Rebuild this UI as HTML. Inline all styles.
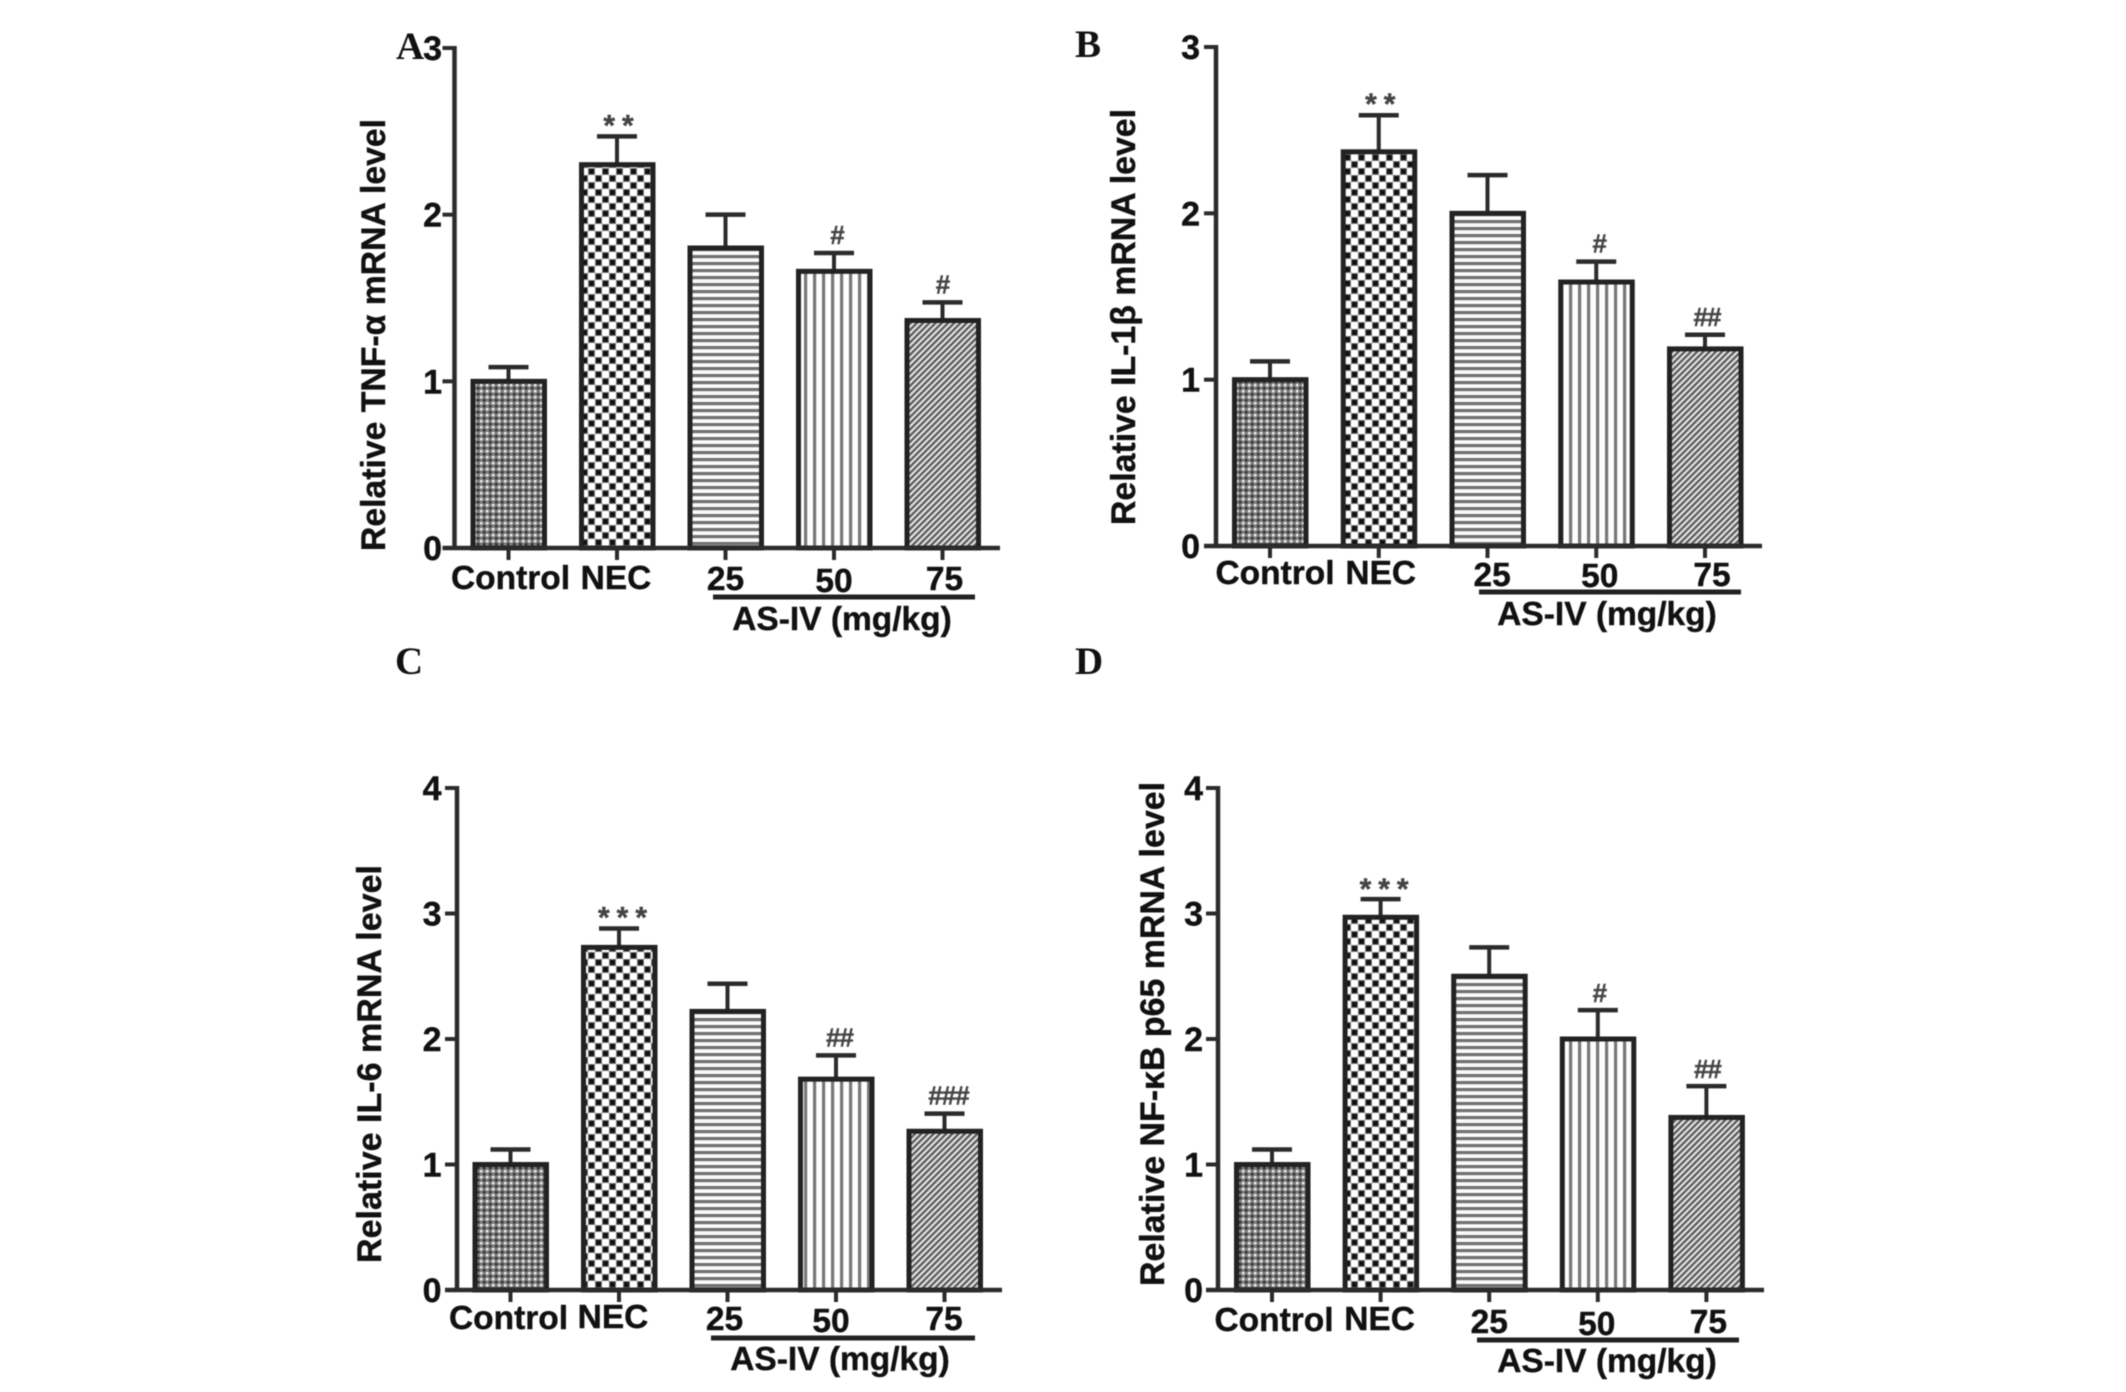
<!DOCTYPE html>
<html lang="en">
<head>
<meta charset="utf-8">
<title>Relative mRNA levels by treatment group</title>
<style>
  html, body { margin: 0; padding: 0; background: #fff; }
  #figure { display: block; width: 2126px; height: 1392px; filter: blur(0.45px); }
  text { font-family: "Liberation Sans", sans-serif; font-weight: bold; fill: #111; stroke: #111; stroke-width: 0.4px; }
  .panel-letter { font-family: "Liberation Serif", serif; font-size: 39px; fill: #111; stroke-width: 0; }
  .tick-label { font-size: 34px; text-anchor: end; }
  .cat-label { font-size: 33.5px; text-anchor: middle; }
  .axis-title { font-size: 34px; text-anchor: middle; }
  .group-title { font-size: 33.5px; text-anchor: middle; }
  .star { font-size: 30px; text-anchor: middle; fill: #444; stroke: #444; letter-spacing: 7px; }
  .hash { font-size: 26px; text-anchor: middle; fill: #444; stroke: #444; letter-spacing: -1px; }
</style>
</head>
<body>
<svg id="figure" xmlns="http://www.w3.org/2000/svg" width="2126" height="1392" viewBox="0 0 2126 1392">
  <defs>
    <pattern id="fill-control" patternUnits="userSpaceOnUse" width="6" height="6">
      <rect width="6" height="6" fill="#7d7d7d"/>
      <rect x="0" y="0" width="2.4" height="2.4" fill="#f4f4f4"/>
      <rect x="3" y="3" width="2.4" height="2.4" fill="#2a2a2a"/>
    </pattern>
    <pattern id="fill-nec" patternUnits="userSpaceOnUse" width="14" height="14">
      <rect width="14" height="14" fill="#fff"/>
      <rect x="0" y="0" width="7" height="7" fill="#777"/>
      <rect x="7" y="7" width="7" height="7" fill="#777"/>
      <rect x="1" y="1" width="5" height="5" fill="#111"/>
      <rect x="8" y="8" width="5" height="5" fill="#111"/>
    </pattern>
    <pattern id="fill-25" patternUnits="userSpaceOnUse" width="7" height="7">
      <rect width="7" height="7" fill="#fafafa"/>
      <rect y="3" width="7" height="3.2" fill="#707070"/>
    </pattern>
    <pattern id="fill-50" patternUnits="userSpaceOnUse" width="9" height="9">
      <rect width="9" height="9" fill="#fdfdfd"/>
      <rect x="3" width="3.2" height="9" fill="#777"/>
    </pattern>
    <pattern id="fill-75" patternUnits="userSpaceOnUse" width="4.4" height="4.4" patternTransform="rotate(45)">
      <rect width="4.4" height="4.4" fill="#e8e8e8"/>
      <rect x="0" width="2.3" height="4.4" fill="#5a5a5a"/>
    </pattern>
  </defs>
</svg>
<script>
// ---- chart data ----
const categories = ['Control', 'NEC', '25', '50', '75'];
const groupTitle = 'AS-IV (mg/kg)';

const tnfTicks = [0, 1, 2, 3];
const tnfValues = [1.0, 2.3, 1.8, 1.66, 1.365];
const tnfErrorTops = [1.085, 2.47, 2.0, 1.77, 1.474];
const tnfMarks = ['', '**', '', '#', '#'];

const il1Ticks = [0, 1, 2, 3];
const il1Values = [1.0, 2.37, 2.0, 1.587, 1.185];
const il1ErrorTops = [1.11, 2.59, 2.23, 1.71, 1.27];
const il1Marks = ['', '**', '', '#', '##'];

const il6Ticks = [0, 1, 2, 3, 4];
const il6Values = [1.0, 2.73, 2.22, 1.68, 1.265];
const il6ErrorTops = [1.12, 2.88, 2.44, 1.87, 1.405];
const il6Marks = ['', '***', '', '##', '###'];

const nfkbTicks = [0, 1, 2, 3, 4];
const nfkbValues = [1.0, 2.97, 2.5, 2.0, 1.375];
const nfkbErrorTops = [1.12, 3.115, 2.73, 2.23, 1.625];
const nfkbMarks = ['', '***', '', '#', '##'];

// ---- panel wiring: data plus layout frame ----
const panels = [
  { key: 'a', letter: 'A', letterX: 396, letterY: 59, title: 'Relative TNF-\u03b1 mRNA level',
    ticks: tnfTicks, values: tnfValues, errors: tnfErrorTops, marks: tnfMarks,
    axisX: 454.5, axisEnd: 1000, y0: 548, yTop: 48, firstBar: 508.5, barStep: 108.5,
    tickLabelX: 442, titleX: 385, titleTop: 119, titleBottom: 551,
    labelShift: [2, -1, 0, 0, 2], labelBase: [589, 589, 590, 592, 590],
    ruleStart: 713, ruleEnd: 975, ruleY: 597, groupX: 842, groupY: 630,
    markShift: [0, 2, 0, 3, 0], markRise: 18 },
  { key: 'b', letter: 'B', letterX: 1075, letterY: 57, title: 'Relative IL-1\u03b2 mRNA level',
    ticks: il1Ticks, values: il1Values, errors: il1ErrorTops, marks: il1Marks,
    axisX: 1216, axisEnd: 1762, y0: 546, yTop: 47, firstBar: 1270, barStep: 108.75,
    tickLabelX: 1200, titleX: 1135, titleTop: 109, titleBottom: 525,
    labelShift: [5, 2, 4.6, 3.5, 7], labelBase: [584, 584, 586, 587, 586],
    ruleStart: 1479, ruleEnd: 1741, ruleY: 592, groupX: 1607, groupY: 625,
    markShift: [0, 2, 0, 3, 2], markRise: 18 },
  { key: 'c', letter: 'C', letterX: 395, letterY: 674, title: 'Relative IL-6 mRNA level',
    ticks: il6Ticks, values: il6Values, errors: il6ErrorTops, marks: il6Marks,
    axisX: 457, axisEnd: 1002, y0: 1290, yTop: 788, firstBar: 510.5, barStep: 108.5,
    tickLabelX: 441.5, titleX: 381, titleTop: 865, titleBottom: 1263,
    labelShift: [-2, -6, -3, -5, -0.5], labelBase: [1329, 1328, 1330, 1332, 1330],
    ruleStart: 711, ruleEnd: 975, ruleY: 1338, groupX: 840, groupY: 1370,
    markShift: [0, 4, 0, 3.5, 4], markRise: 18 },
  { key: 'd', letter: 'D', letterX: 1075, letterY: 674, title: 'Relative NF-\u03baB p65 mRNA level',
    ticks: nfkbTicks, values: nfkbValues, errors: nfkbErrorTops, marks: nfkbMarks,
    axisX: 1218, axisEnd: 1764, y0: 1290, yTop: 788, firstBar: 1272, barStep: 108.6,
    tickLabelX: 1203, titleX: 1164, titleTop: 782, titleBottom: 1286,
    labelShift: [2, -1, 0, -1, 2], labelBase: [1331, 1330, 1333, 1335, 1333],
    ruleStart: 1477, ruleEnd: 1739, ruleY: 1340, groupX: 1607, groupY: 1372,
    markShift: [0, 4, 0, 1.5, 1], markRise: 17 }
];

const fillIds = ['fill-control', 'fill-nec', 'fill-25', 'fill-50', 'fill-75'];
const fillSlugs = ['control', 'nec', '25', '50', '75'];
const svgRoot = document.getElementById('figure');
const NS = 'http://www.w3.org/2000/svg';
const INK = '#2b2b2b';

function make(parent, tag, attrs, content) {
  const node = document.createElementNS(NS, tag);
  for (const k in attrs) node.setAttribute(k, attrs[k]);
  if (content !== undefined) node.textContent = content;
  parent.appendChild(node);
  return node;
}

function drawPanel(p) {
  const group = make(svgRoot, 'g', {});
  
  

  const maxTick = p.ticks[p.ticks.length - 1];
  const yScale = v => p.y0 - (v / maxTick) * (p.y0 - p.yTop);
  const xScale = i => p.firstBar + i * p.barStep;

  const letter = make(group, 'text', { x: p.letterX, y: p.letterY, class: 'panel-letter' }, p.letter);
  
  

  const title = make(group, 'text', {
    class: 'axis-title',
    transform: 'translate(' + p.titleX + ',' + ((p.titleTop + p.titleBottom) / 2) + ') rotate(-90)',
    textLength: p.titleBottom - p.titleTop,
    lengthAdjust: 'spacingAndGlyphs'
  }, p.title);
  
  

  // bars and error bars
  p.values.forEach((v, i) => {
    const cx = xScale(i);
    const whisker = make(group, 'line', { x1: cx, x2: cx, y1: yScale(v), y2: yScale(p.errors[i]), stroke: INK, 'stroke-width': 4 });
    
    

    const cap = make(group, 'line', { x1: cx - 20, x2: cx + 20, y1: yScale(p.errors[i]), y2: yScale(p.errors[i]), stroke: INK, 'stroke-width': 4.5 });
    
    

    const bar = make(group, 'rect', {
      x: cx - 35.5, y: yScale(v), width: 71.5, height: p.y0 - yScale(v),
      fill: 'url(#' + fillIds[i] + ')', stroke: '#222', 'stroke-width': 5
    });
    
    

    const markText = p.marks[i];
    if (markText) {
      const isStar = markText.charAt(0) === '*';
      const centerY = yScale(p.errors[i]) - p.markRise;
      const mark = make(group, 'text', {
        x: cx + p.markShift[i] + (isStar ? 3 : 0),
        y: centerY + (isStar ? 17 : 9),
        class: isStar ? 'star' : 'hash'
      }, markText);
      
      
    }

    const xTick = make(group, 'line', { x1: cx, x2: cx, y1: p.y0, y2: p.y0 + 12, stroke: INK, 'stroke-width': 4 });
    
    

    const catLabel = make(group, 'text', { x: cx + p.labelShift[i], y: p.labelBase[i], class: 'cat-label' }, categories[i]);
    
    
  });

  // axes
  const yAxis = make(group, 'line', { x1: p.axisX, x2: p.axisX, y1: p.yTop - 2, y2: p.y0 + 2, stroke: INK, 'stroke-width': 4.5 });
  
  

  const xAxis = make(group, 'line', { x1: p.axisX - 12, x2: p.axisEnd, y1: p.y0, y2: p.y0, stroke: INK, 'stroke-width': 4.5 });
  
  

  p.ticks.forEach(t => {
    const tick = make(group, 'line', { x1: p.axisX - 12, x2: p.axisX, y1: yScale(t), y2: yScale(t), stroke: INK, 'stroke-width': 4 });
    
    

    const tickLabel = make(group, 'text', { x: p.tickLabelX, y: yScale(t) + 12, class: 'tick-label' }, String(t));
    
    
  });

  // dose group bracket
  const rule = make(group, 'line', { x1: p.ruleStart, x2: p.ruleEnd, y1: p.ruleY, y2: p.ruleY, stroke: '#222', 'stroke-width': 5 });
  
  

  const groupLabel = make(group, 'text', { x: p.groupX, y: p.groupY, class: 'group-title' }, groupTitle);
  
  
}

panels.forEach(drawPanel);
</script>
</body>
</html>
